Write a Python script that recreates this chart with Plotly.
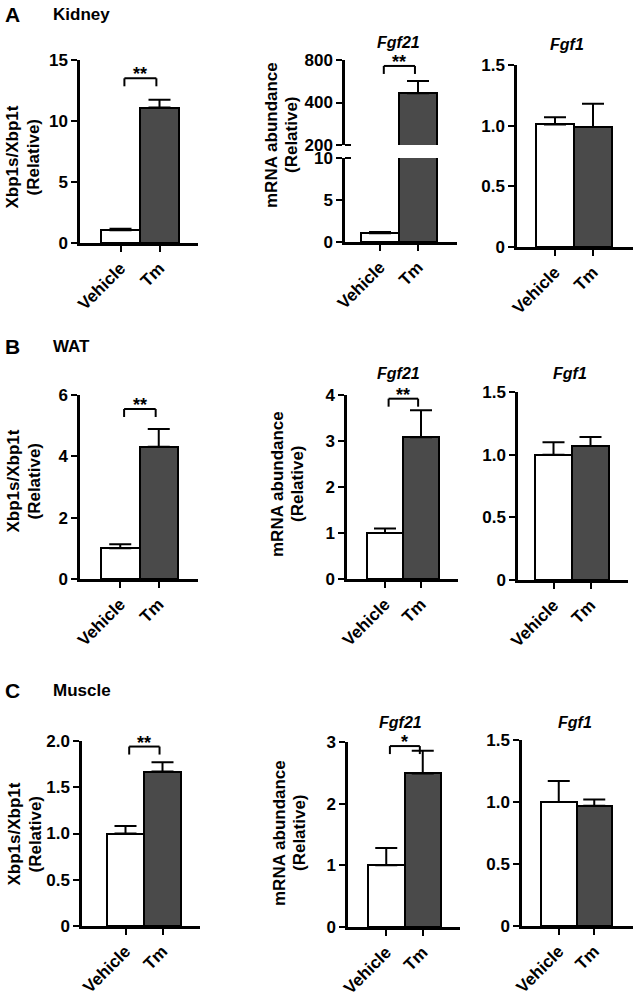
import math
import plotly.graph_objects as go

W, H = 633, 995
FONT = "Liberation Sans, Arial, Helvetica, sans-serif"

# ---------------- data ----------------
groups = ["Vehicle", "Tm"]
row_letters = ["A", "B", "C"]
tissues = ["Kidney", "WAT", "Muscle"]
gene_titles = ["", "Fgf21", "Fgf1"]
ytitle_left = ["Xbp1s/Xbp1t", "(Relative)"]
ytitle_mid = ["mRNA abundance", "(Relative)"]

kidney_xbp1 = [1.05, 11.1]
kidney_xbp1_err = [0.12, 0.65]
kidney_fgf21 = [1.05, 465]
kidney_fgf21_err = [0.15, 103]
kidney_fgf1 = [1.01, 0.99]
kidney_fgf1_err = [0.06, 0.19]

wat_xbp1 = [1.0, 4.31]
wat_xbp1_err = [0.13, 0.58]
wat_fgf21 = [1.0, 3.08]
wat_fgf21_err = [0.10, 0.59]
wat_fgf1 = [1.0, 1.07]
wat_fgf1_err = [0.10, 0.07]

muscle_xbp1 = [1.0, 1.67]
muscle_xbp1_err = [0.08, 0.10]
muscle_fgf21 = [1.0, 2.49]
muscle_fgf21_err = [0.28, 0.37]
muscle_fgf1 = [1.0, 0.97]
muscle_fgf1_err = [0.17, 0.05]

significance = [["**", "**", ""], ["**", "**", ""], ["**", "*", ""]]

ticks_k_xbp1 = [0, 5, 10, 15]
labels_k_xbp1 = ["0", "5", "10", "15"]
ticks_k_fgf21_low = [0, 5, 10]
labels_k_fgf21_low = ["0", "5", "10"]
ticks_k_fgf21_high = [200, 400, 800]
labels_k_fgf21_high = ["200", "400", "800"]
ticks_fgf1 = [0, 0.5, 1.0, 1.5]
labels_fgf1 = ["0", "0.5", "1.0", "1.5"]
ticks_w_xbp1 = [0, 2, 4, 6]
labels_w_xbp1 = ["0", "2", "4", "6"]
ticks_w_fgf21 = [0, 1, 2, 3, 4]
labels_w_fgf21 = ["0", "1", "2", "3", "4"]
ticks_m_xbp1 = [0, 0.5, 1.0, 1.5, 2.0]
labels_m_xbp1 = ["0", "0.5", "1.0", "1.5", "2.0"]
ticks_m_fgf21 = [0, 1, 2, 3]
labels_m_fgf21 = ["0", "1", "2", "3"]

# ---------------- layout geometry (pixels) ----------------
panels = [
    dict(row=0, col=0, v=kidney_xbp1, e=kidney_xbp1_err, t=ticks_k_xbp1, l=labels_k_xbp1,
         g=(80, 198, 60, 243, 101, 39), br=0.90),
    dict(row=0, col=1, v=kidney_fgf21, e=kidney_fgf21_err, t=ticks_k_fgf21_low, l=labels_k_fgf21_low,
         g=(345, 457, 158, 242, 361, 38), br=0.93,
         upper=dict(t=ticks_k_fgf21_high, l=labels_k_fgf21_high, top=60, bottom=145)),
    dict(row=0, col=2, v=kidney_fgf1, e=kidney_fgf1_err, t=ticks_fgf1, l=labels_fgf1,
         g=(517, 633, 65, 247, 536, 38)),
    dict(row=1, col=0, v=wat_xbp1, e=wat_xbp1_err, t=ticks_w_xbp1, l=labels_w_xbp1,
         g=(80, 198, 395, 579, 101, 38.5), br=0.924),
    dict(row=1, col=1, v=wat_fgf21, e=wat_fgf21_err, t=ticks_w_fgf21, l=labels_w_fgf21,
         g=(347, 458, 395, 579, 367, 36), br=0.98),
    dict(row=1, col=2, v=wat_fgf1, e=wat_fgf1_err, t=ticks_fgf1, l=labels_fgf1,
         g=(518, 628, 392, 580, 535, 37)),
    dict(row=2, col=0, v=muscle_xbp1, e=muscle_xbp1_err, t=ticks_m_xbp1, l=labels_m_xbp1,
         g=(82, 200, 741, 926, 107, 37), br=0.97),
    dict(row=2, col=1, v=muscle_fgf21, e=muscle_fgf21_err, t=ticks_m_fgf21, l=labels_m_fgf21,
         g=(348, 460, 742, 927, 368, 36.5), br=0.978),
    dict(row=2, col=2, v=muscle_fgf1, e=muscle_fgf1_err, t=ticks_fgf1, l=labels_fgf1,
         g=(522, 633, 740, 926, 541, 35.5)),
]

row_header_y = [15, 346, 690]
gene_title_pos = [[None, (398, 42), (567, 45)],
                  [None, (398, 373), (570, 373)],
                  [None, (400, 722), (575, 722)]]
# (x of line 1, x of line 2, y centre) for each row: left column, middle column
ytitle_pos = [[(12.5, 33.5, 157), (271, 291, 135)],
              [(12.5, 33.5, 481), (277, 297, 484)],
              [(13.5, 34.5, 834), (279, 299, 833)]]

BAR_COLORS = ["#ffffff", "#4a4a4a"]
LINE_W = 2.5
TICK_FONT = dict(family=FONT, size=17, color="black", weight="bold")


def fx(p):
    return max(0.0, min(1.0, p / W))


def fy(p):
    return max(0.0, min(1.0, 1 - p / H))


def names(n):
    s = "" if n == 1 else str(n)
    return f"x{s}", f"y{s}", f"xaxis{s}", f"yaxis{s}"


fig = go.Figure()
layout = dict(width=W, height=H, margin=dict(l=0, r=0, t=0, b=0, autoexpand=False),
              paper_bgcolor="white", plot_bgcolor="white", showlegend=False,
              bargap=0, font=dict(family=FONT, color="black"))
shapes = []
annotations = []

ax_n = 0
for p in panels:
    left, right, top, bottom, bar_left, bw = p["g"]
    xmin = -0.5 - (bar_left - left) / bw
    xmax = xmin + (right - left) / bw
    ax_n += 1
    xa, ya, xkey, ykey = names(ax_n)
    ymax = p["t"][-1]

    layout[xkey] = dict(domain=[fx(left), fx(right)], anchor=ya, range=[xmin, xmax],
                        tickmode="array", tickvals=[0, 1], ticktext=groups, tickangle=-45,
                        ticks="outside", ticklen=6, tickwidth=2, tickcolor="black",
                        showline=True, linewidth=LINE_W, linecolor="black", automargin=False,
                        showgrid=False, zeroline=False, tickfont=TICK_FONT, fixedrange=True)
    layout[ykey] = dict(domain=[fy(bottom), fy(top)], anchor=xa, range=[0, ymax],
                        tickmode="array", tickvals=p["t"], ticktext=p["l"],
                        ticks="outside", ticklen=6, tickwidth=2, tickcolor="black",
                        showline=True, linewidth=LINE_W, linecolor="black", automargin=False,
                        showgrid=False, zeroline=False, tickfont=TICK_FONT, fixedrange=True)

    low_err = [e if v <= ymax else 0 for v, e in zip(p["v"], p["e"])]
    fig.add_trace(go.Bar(x=[0, 1], y=p["v"], width=1, xaxis=xa, yaxis=ya,
                         marker=dict(color=BAR_COLORS, line=dict(color="black", width=2)),
                         error_y=dict(type="data", symmetric=False, array=low_err,
                                      arrayminus=[0, 0], color="black", thickness=2, width=11),
                         hoverinfo="skip"))

    sig_axis = ya
    sig_h = bottom - top
    if "upper" in p:
        u = p["upper"]
        ax_n += 1
        xa2, ya2, xkey2, ykey2 = names(ax_n)
        layout[xkey2] = dict(domain=[fx(left), fx(right)], anchor=ya2, range=[xmin, xmax],
                             matches=xa, showline=False, showticklabels=False, ticks="",
                             automargin=False,
                             showgrid=False, zeroline=False, fixedrange=True)
        layout[ykey2] = dict(domain=[fy(u["bottom"]), fy(u["top"])], anchor=xa2, type="log",
                             range=[math.log10(u["t"][0]), math.log10(u["t"][-1])],
                             tickmode="array", tickvals=u["t"], ticktext=u["l"],
                             ticks="outside", ticklen=6, tickwidth=2, tickcolor="black",
                             showline=True, linewidth=LINE_W, linecolor="black", automargin=False,
                             showgrid=False, zeroline=False, tickfont=TICK_FONT,
                             fixedrange=True)
        up_v = [v if v > u["t"][0] else None for v in p["v"]]
        up_e = [e if v > u["t"][0] else 0 for v, e in zip(p["v"], p["e"])]
        fig.add_trace(go.Bar(x=[0, 1], y=up_v, width=1, xaxis=xa2, yaxis=ya2,
                             marker=dict(color=BAR_COLORS, line=dict(color="black", width=2)),
                             error_y=dict(type="data", symmetric=False, array=up_e,
                                          arrayminus=[0, 0], color="black", thickness=2, width=11),
                             hoverinfo="skip"))
        # break marks (inner half of ticks)
        shapes.append(dict(type="line", xref=f"{xa} domain", yref=f"{ya} domain",
                           xsizemode="pixel", xanchor=0, x0=0, x1=6, y0=1, y1=1,
                           line=dict(color="black", width=2)))
        shapes.append(dict(type="line", xref=f"{xa2} domain", yref=f"{ya2} domain",
                           xsizemode="pixel", xanchor=0, x0=0, x1=6, y0=0, y1=0,
                           line=dict(color="black", width=2)))
        sig_axis = ya2
        sig_h = u["bottom"] - u["top"]

    star = significance[p["row"]][p["col"]]
    if star:
        by = p["br"]
        leg = 8 / sig_h
        lx0, lx1 = 0.1, 0.92
        for (x0, y0, x1, y1) in [(lx0, by, lx1, by), (lx0, by, lx0, by - leg), (lx1, by, lx1, by - leg)]:
            shapes.append(dict(type="line", xref=xa, yref=f"{sig_axis} domain",
                               x0=x0, x1=x1, y0=y0, y1=y1, line=dict(color="black", width=2)))
        annotations.append(dict(text=f"<b>{star}</b>", xref=xa, yref=f"{sig_axis} domain",
                                x=(lx0 + lx1) / 2, y=by, yanchor="bottom", yshift=-8,
                                showarrow=False, font=dict(family=FONT, size=18, color="black")))

# row headers, gene titles, axis titles
for r in range(3):
    annotations.append(dict(text=f"<b>{row_letters[r]}</b>", xref="paper", yref="paper",
                            x=fx(3), y=fy(row_header_y[r]), xanchor="left", yanchor="middle",
                            showarrow=False, font=dict(family=FONT, size=21, color="black")))
    annotations.append(dict(text=f"<b>{tissues[r]}</b>", xref="paper", yref="paper",
                            x=fx(51), y=fy(row_header_y[r]), xanchor="left", yanchor="middle",
                            showarrow=False, font=dict(family=FONT, size=17, color="black")))
    for c in (1, 2):
        gx, gy = gene_title_pos[r][c]
        annotations.append(dict(text=f"<b><i>{gene_titles[c]}</i></b>", xref="paper", yref="paper",
                                x=fx(gx), y=fy(gy), xanchor="center", yanchor="middle",
                                showarrow=False, font=dict(family=FONT, size=16, color="black")))
    for c, lines in enumerate([ytitle_left, ytitle_mid]):
        x1p, x2p, ty = ytitle_pos[r][c]
        for txt, tx in zip(lines, (x1p, x2p)):
            annotations.append(dict(text=f"<b>{txt}</b>", xref="paper", yref="paper",
                                    x=fx(tx), y=fy(ty), xanchor="center", yanchor="middle",
                                    textangle=-90, showarrow=False,
                                    font=dict(family=FONT, size=17, color="black")))

layout["shapes"] = shapes
layout["annotations"] = annotations
fig.update_layout(**layout)
fig.write_html("out.html", config={"displayModeBar": False},
               post_script="document.body.style.margin='0px';document.body.style.overflow='hidden';")
